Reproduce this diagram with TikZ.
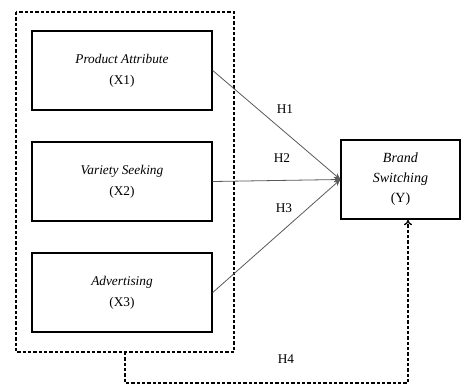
\documentclass[tikz,border=0pt]{standalone}
\usepackage{fontspec}
\setmainfont{Liberation Serif}
\usetikzlibrary{arrows.meta}
\begin{document}
\begin{tikzpicture}[x=0.75pt,y=-0.75pt,
  varbox/.style={draw=black,line width=1.1pt,minimum width=135pt,minimum height=59.5pt,align=center,inner sep=0pt,font=\fontsize{10}{16}\selectfont},
  ybox/.style={draw=black,line width=1.1pt,minimum width=89pt,minimum height=59.5pt,align=center,inner sep=0pt,font=\fontsize{10.5}{15}\selectfont},
  dashline/.style={line width=1pt,dash pattern=on 2.4pt off 1.6pt},
  hline/.style={draw=black!65,line width=0.6pt,-{Stealth[length=5pt,width=4pt]}},
  hlab/.style={font=\fontsize{10}{12}\selectfont}]
\useasboundingbox (0,0) rectangle (465,385);
\node[varbox] (x1) at (122,70.5) {\textit{Product Attribute}\\(X1)};
\node[varbox] (x2) at (122,181.5) {\textit{Variety Seeking}\\(X2)};
\node[varbox] (x3) at (122,292.5) {\textit{Advertising}\\(X3)};
\node[ybox] (y) at (400.5,179.5) {\textit{Brand}\\\textit{Switching}\\(Y)};
\draw[dashline] (16,12) rectangle (234,352);
\coordinate (gb) at (125,352);
\coordinate (c1) at (125,383);
\coordinate (c2) at (408,383);
\draw[hline] (x1.east) -- (y.west);
\draw[hline] (x2.east) -- (y.west);
\draw[hline] (x3.east) -- (y.west);
\draw[dashline,-{To[length=4pt,width=6pt]}] (gb) -- (c1) -- (c2) -- (c2 |- y.south);
\node[hlab] (h1) at (285,109) {H1};
\node[hlab] (h2) at (282,158) {H2};
\node[hlab] (h3) at (284,208) {H3};
\node[hlab] (h4) at (286,359) {H4};
\end{tikzpicture}
\end{document}
